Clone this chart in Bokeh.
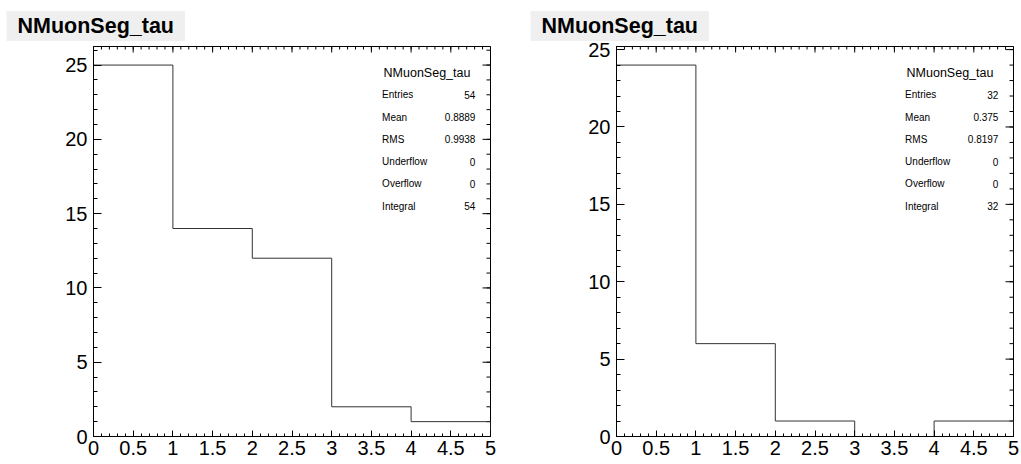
import math
from bokeh.plotting import figure
from bokeh.layouts import row
from bokeh.models import Range1d, FixedTicker, SingleIntervalTicker, Label
from bokeh.embed import file_html
from bokeh.resources import INLINE

# ---- data ----
hist_name = "NMuonSeg_tau"
bin_edges = [0, 1, 2, 3, 4, 5]
counts_left = [25, 14, 12, 2, 1]
counts_right = [24, 6, 1, 0, 1]
stat_names = ["Entries", "Mean", "RMS", "Underflow", "Overflow", "Integral"]
stat_values_left = ["54", "0.8889", "0.9938", "0", "0", "54"]
stat_values_right = ["32", "0.375", "0.8197", "0", "0", "32"]
x_ticks = [0, 0.5, 1, 1.5, 2, 2.5, 3, 3.5, 4, 4.5, 5]
x_tick_labels = ["0", "0.5", "1", "1.5", "2", "2.5", "3", "3.5", "4", "4.5", "5"]
x_minor_ticks = [i / 10 for i in range(0, 51)]
y_tick_step = 5

FONT = "Liberation Sans"


def style_axis(ax, major_in, minor_in, standoff=4):
    ax.axis_line_color = "black"
    ax.axis_line_width = 1
    ax.major_tick_line_color = "black"
    ax.minor_tick_line_color = "black"
    ax.major_tick_in = major_in
    ax.major_tick_out = 0
    ax.minor_tick_in = minor_in
    ax.minor_tick_out = 0
    ax.major_label_text_font = FONT
    ax.major_label_text_color = "black"
    ax.major_label_text_font_size = "20px"
    ax.major_label_standoff = standoff


def make_panel(counts, values, width, border_left, border_right, title_offset):
    x0, x1 = bin_edges[0], bin_edges[-1]
    ymax = max(counts) * 1.05
    p = figure(width=width, height=464,
               x_range=Range1d(x0, x1), y_range=Range1d(0, ymax),
               output_backend="svg", toolbar_location=None,
               min_border_left=border_left, min_border_right=border_right,
               min_border_top=46, min_border_bottom=28,
               title=hist_name)
    p.xgrid.visible = False
    p.ygrid.visible = False
    p.outline_line_color = "black"
    p.outline_line_width = 1
    p.background_fill_color = "white"
    p.border_fill_color = "white"

    p.title.text_font = FONT
    p.title.text_font_size = "21.5px"
    p.title.text_font_style = "bold"
    p.title.text_color = "black"
    p.title.background_fill_color = "#efefef"
    p.title.padding = dict(left=11, right=11, top=3, bottom=3)
    p.title.align = "left"
    p.title.offset = title_offset
    p.title.standoff = 11

    overrides = {t: l for t, l in zip(x_ticks, x_tick_labels)}

    bx = p.xaxis[0]
    bx.ticker = FixedTicker(ticks=x_ticks, minor_ticks=x_minor_ticks)
    bx.major_label_overrides = overrides
    style_axis(bx, 6, 3, standoff=4)

    ly = p.yaxis[0]
    ly.ticker = SingleIntervalTicker(interval=y_tick_step, num_minor_ticks=5)
    style_axis(ly, 8, 4, standoff=6)

    # mirrored ticks on top and right edges (clipped to the frame, half visible)
    y_major = list(range(0, int(ymax) + 1, y_tick_step))
    y_minor = list(range(0, int(ymax) + 1))
    p.scatter(x_ticks, [ymax] * len(x_ticks), marker="dash", angle=math.pi / 2,
              size=12, line_color="black", line_width=1)
    p.scatter(x_minor_ticks, [ymax] * len(x_minor_ticks), marker="dash", angle=math.pi / 2,
              size=6, line_color="black", line_width=1)
    p.scatter([x1] * len(y_major), y_major, marker="dash",
              size=16, line_color="black", line_width=1)
    p.scatter([x1] * len(y_minor), y_minor, marker="dash",
              size=8, line_color="black", line_width=1)

    # histogram outline (step)
    xs, ys = [bin_edges[0]], [0]
    for i, c in enumerate(counts):
        xs += [bin_edges[i], bin_edges[i + 1]]
        ys += [c, c]
    xs.append(bin_edges[-1])
    ys.append(0)
    p.line(xs, ys, line_color="#333333", line_width=1)

    # stats box text
    def fx(f):
        return x0 + f * (x1 - x0)

    def fy(f):
        return f * ymax

    top = 0.933
    step = 0.057
    p.add_layout(Label(x=fx(0.84), y=fy(top), text=hist_name, text_align="center",
                       text_baseline="middle", text_font=FONT, text_font_size="12.5px",
                       text_color="black"))
    for i, (n, v) in enumerate(zip(stat_names, values)):
        yy = fy(top - step * (i + 1))
        p.add_layout(Label(x=fx(0.727), y=yy, text=n, text_align="left",
                           text_baseline="middle", text_font=FONT, text_font_size="10px",
                           text_color="black"))
        p.add_layout(Label(x=fx(0.962), y=yy, text=v, text_align="right",
                           text_baseline="middle", text_font=FONT, text_font_size="10px",
                           text_color="black"))
    return p


left = make_panel(counts_left, stat_values_left, 524, 93, 34, -87)
right = make_panel(counts_right, stat_values_right, 497, 92, 8, -86)

layout = row(left, right)
open("out.html", "w").write(file_html(layout, INLINE))
